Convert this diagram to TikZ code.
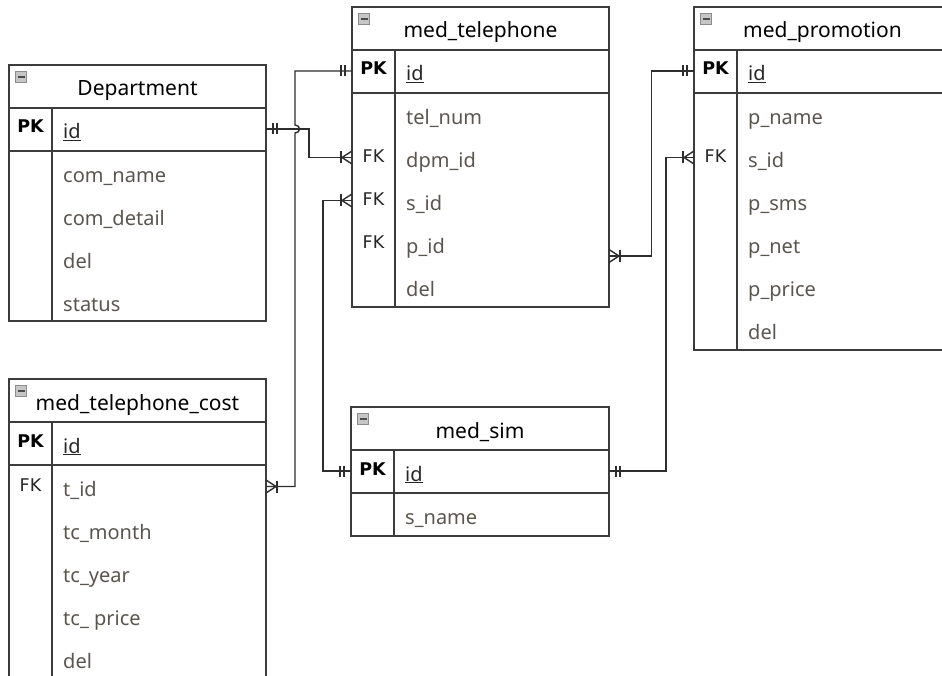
\documentclass[tikz,border=0pt]{standalone}
\usepackage{fontspec}
\setmainfont{Noto Sans}
\newfontfamily\keyfont{DejaVu Sans}
\usetikzlibrary{calc}

\definecolor{framecol}{HTML}{3C3C3C}
\definecolor{conncol}{HTML}{2E2E2E}
\definecolor{fieldcol}{HTML}{5A564F}
\definecolor{iconfill}{HTML}{C6C6C6}
\definecolor{iconedge}{HTML}{8C8C8C}

\tikzset{
  tablebox/.style={draw=framecol, line width=1.6pt, fill=white, inner sep=0pt,
    outer sep=0pt, anchor=north west, rectangle},
  rule/.style={draw=framecol, line width=1.6pt},
  iconbox/.style={rectangle, minimum size=11pt, inner sep=0pt, fill=iconfill,
    draw=iconedge, line width=0.6pt},
  iconbar/.style={draw=black!70, line width=1.4pt},
  tabletitle/.style={anchor=base, inner sep=0pt, font=\fontsize{21}{25}\selectfont, text=black},
  field/.style={anchor=base west, inner sep=0pt, font=\fontsize{20}{24}\selectfont, text=fieldcol},
  keyfield/.style={anchor=base west, inner sep=0pt, font=\fontsize{20}{24}\selectfont, text=black!85},
  pklabel/.style={anchor=base, inner sep=0pt, font=\keyfont\bfseries\fontsize{17.5}{20}\selectfont, text=black},
  fklabel/.style={anchor=base, inner sep=0pt, font=\keyfont\fontsize{17.5}{20}\selectfont, text=black!85},
  conn/.style={draw=conncol, line width=1.4pt},
  pics/onemark/.style={code={
    \draw[conn] (-7,-5.5) -- (-7,5.5) (-11,-5.5) -- (-11,5.5);
  }},
  pics/manymark/.style={code={
    \draw[conn] (0,-6.5) -- (-10,0) -- (0,6.5);
    \draw[conn] (-11,-6) -- (-11,6);
  }},
}

% frame of one table: name, left, top, width, height, title
\newcommand\erbox[6]{%
  \node[tablebox, minimum width=#4pt, minimum height=#5pt] (#1) at (#2,#3) {};
  \draw[rule] ([yshift=-43pt]#1.north west) -- ([yshift=-43pt]#1.north east);
  \draw[rule] ([yshift=-86pt]#1.north west) -- ([yshift=-86pt]#1.north east);
  \draw[rule] ([xshift=43pt,yshift=-43pt]#1.north west) -- ([xshift=43pt]#1.south west);
  \node[iconbox] (#1-icon) at ([xshift=12pt,yshift=-12pt]#1.north west) {};
  \draw[iconbar] ([xshift=-3.5pt]#1-icon.center) -- ([xshift=3.5pt]#1-icon.center);
  \node[tabletitle] (#1-title) at ([yshift=-31pt]#1.north) {#6};
  \node[pklabel] (#1-pk) at ([xshift=21.5pt,yshift=-68pt]#1.north west) {PK};
  \node[keyfield] (#1-id) at ([xshift=54pt,yshift=-74pt]#1.north west) {\underline{id}};
}
% field row: table, node name, baseline offset from the top, text
\newcommand\erfield[4]{%
  \node[field] (#2) at ([xshift=54pt,yshift=-#3pt]#1.north west) {#4};
}
% foreign key label: table, node name, baseline offset from the top
\newcommand\erfk[3]{%
  \node[fklabel] (#2) at ([xshift=21.5pt,yshift=-#3pt]#1.north west) {FK};
}

\begin{document}
\begin{tikzpicture}[x=1pt,y=-1pt]
\useasboundingbox (0,0) rectangle (942,676);
\fill[white] (0,0) rectangle (942,676);
\clip (0,0) rectangle (942,676);

% tables
\erbox{dept}{9}{65}{257}{256}{Department}
\erfield{dept}{d-name}{117.5}{com\_name}
\erfield{dept}{d-detail}{160.5}{com\_detail}
\erfield{dept}{d-del}{203.5}{del}
\erfield{dept}{d-status}{246.5}{status}

\erbox{tel}{352}{7}{257}{300}{med\_telephone}
\erfield{tel}{t-num}{117.5}{tel\_num}
\erfield{tel}{t-dpm}{160.5}{dpm\_id}
\erfield{tel}{t-sid}{203.5}{s\_id}
\erfield{tel}{t-pid}{246.5}{p\_id}
\erfield{tel}{t-del}{289.5}{del}
\erfk{tel}{t-fk1}{155.5}
\erfk{tel}{t-fk2}{198.5}
\erfk{tel}{t-fk3}{241.5}

\erbox{promo}{694}{7}{257}{343}{med\_promotion}
\erfield{promo}{p-name}{117.5}{p\_name}
\erfield{promo}{p-sid}{160.5}{s\_id}
\erfield{promo}{p-sms}{203.5}{p\_sms}
\erfield{promo}{p-net}{246.5}{p\_net}
\erfield{promo}{p-price}{289.5}{p\_price}
\erfield{promo}{p-del}{332.5}{del}
\erfk{promo}{p-fk1}{155.5}

\erbox{cost}{9}{379}{257}{310}{med\_telephone\_cost}
\erfield{cost}{c-tid}{117.5}{t\_id}
\erfield{cost}{c-month}{160.5}{tc\_month}
\erfield{cost}{c-year}{203.5}{tc\_year}
\erfield{cost}{c-price}{246.5}{tc\_ price}
\erfield{cost}{c-del}{289.5}{del}
\erfk{cost}{c-fk1}{112.5}

\erbox{sim}{351}{407}{258}{129}{med\_sim}
\erfield{sim}{s-name}{117.5}{s\_name}

% connector end points
\coordinate (dp-id)  at ([yshift=10pt]dept.east |- dept-id.base);
\coordinate (tl-pk)  at ([yshift=10pt]tel.west |- tel-id.base);
\coordinate (tl-dpm) at ([yshift=10pt]tel.west |- t-dpm.base);
\coordinate (tl-sid) at ([yshift=10pt]tel.west |- t-sid.base);
\coordinate (tl-pid) at ([yshift=-2.5pt]tel.east |- t-pid.base);
\coordinate (ct-tid) at ([yshift=10pt]cost.east |- c-tid.base);
\coordinate (sm-idw) at ([yshift=10pt]sim.west |- sim-id.base);
\coordinate (sm-ide) at ([yshift=10pt]sim.east |- sim-id.base);
\coordinate (pr-pk)  at ([yshift=10pt]promo.west |- promo-id.base);
\coordinate (pr-sid) at ([yshift=10pt]promo.west |- p-sid.base);

% relationships
\draw[conn] (dp-id) -| ($(dp-id)!.5!(tl-dpm)$) |- (tl-dpm);
\draw[conn] (tl-pk) -| (295,125) .. controls (301,125) and (301,133) .. (295,133) |- (ct-tid);
\draw[conn] (tl-sid) -| (323,300) |- (sm-idw);
\draw[conn] (tl-pid) -| ($(tl-pid)!.5!(pr-pk)$) |- (pr-pk);
\draw[conn] (sm-ide) -| (666,300) |- (pr-sid);

% cardinality marks
\pic[rotate=180] at (dp-id) {onemark};
\pic at (tl-dpm) {manymark};
\pic at (tl-pk) {onemark};
\pic[rotate=180] at (ct-tid) {manymark};
\pic at (tl-sid) {manymark};
\pic at (sm-idw) {onemark};
\pic[rotate=180] at (tl-pid) {manymark};
\pic at (pr-pk) {onemark};
\pic[rotate=180] at (sm-ide) {onemark};
\pic at (pr-sid) {manymark};
\end{tikzpicture}
\end{document}
